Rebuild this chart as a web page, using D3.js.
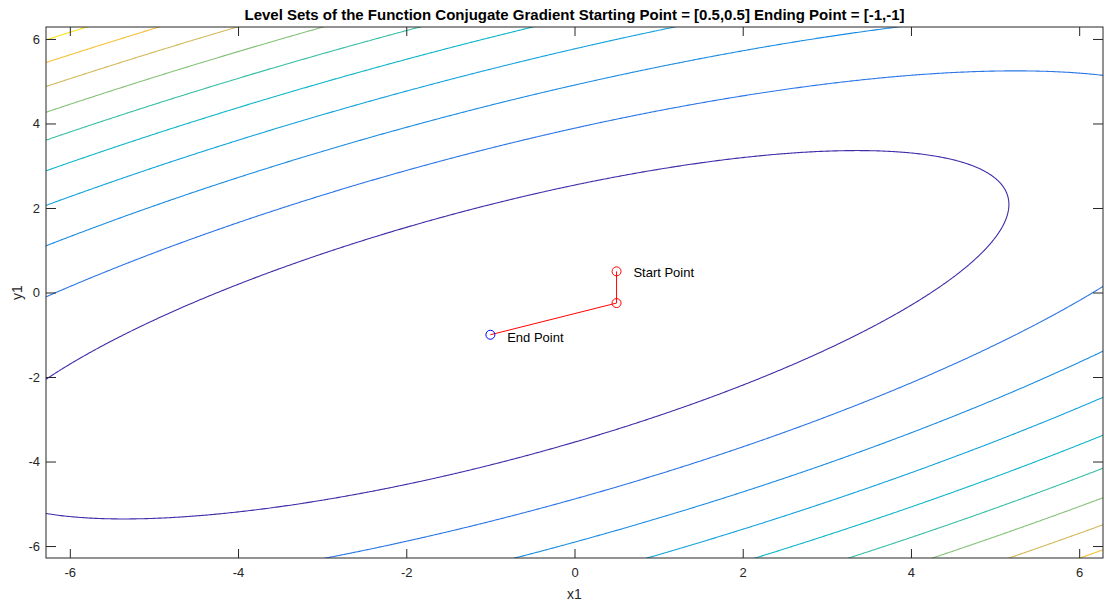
<!DOCTYPE html>
<html>
<head>
<meta charset="utf-8">
<script src="https://cdn.jsdelivr.net/npm/d3@7"></script>
<style>
body { margin: 0; background: #fff; }
text { font-family: "Liberation Sans", Arial, sans-serif; fill: #262626; }
</style>
</head>
<body>
<div id="chart"></div>
<script>
// quadratic f(x1,y1) = q0*x^2 + q1*x*y + q2*y^2 + q3*x + q4*y + q5
var quad = [1, -2, 2, 0, 2, 2];
var levels = [20, 40, 60, 80, 100, 120, 140, 160, 180, 200];
// conjugate gradient iterates
var pathX = [0.5, 0.5, -1];
var pathY = [0.5, -0.25, -1];
var xTicks = [-6, -4, -2, 0, 2, 4, 6];
var yTicks = [-6, -4, -2, 0, 2, 4, 6];
var labels = ['Start Point', 'End Point'];
var titleText = 'Level Sets of the Function Conjugate Gradient Starting Point = [0.5,0.5] Ending Point = [-1,-1]';

var chart_width = 1105;
var chart_height = 603;
var plot_left = 46, plot_right = 1103, plot_top = 27, plot_bottom = 558;

// parula-like colours for the levels
var level_colours = ['#3e2ea8', '#2b76e6', '#1c8ce2', '#14a2dc', '#0fb5c8',
    '#38bea6', '#86c27a', '#d2b95a', '#f6c13a', '#f8e41a'];

function f(x, y) {
    return quad[0] * x * x + quad[1] * x * y + quad[2] * y * y + quad[3] * x + quad[4] * y + quad[5];
}

var svg = d3.select('#chart')
    .append('svg')
    .attr('width', chart_width)
    .attr('height', chart_height);

var x_scale = d3.scaleLinear().domain([-2 * Math.PI, 2 * Math.PI]).range([plot_left, plot_right]);
var y_scale = d3.scaleLinear().domain([-2 * Math.PI, 2 * Math.PI]).range([plot_bottom, plot_top]);
var colour = d3.scaleLinear().domain(levels).range(level_colours);

svg.append('clipPath')
    .attr('id', 'plot-clip')
    .append('rect')
    .attr('x', plot_left)
    .attr('y', plot_top)
    .attr('width', plot_right - plot_left)
    .attr('height', plot_bottom - plot_top);

// sample the function a bit beyond the axes, the clip hides the grid edge
var lo = -6.6, step = 0.02;
var n = Math.round((6.6 - lo) / step) + 1;
var values = new Float64Array(n * n);
for (var j = 0; j < n; j++) {
    for (var i = 0; i < n; i++) {
        values[j * n + i] = f(lo + i * step, lo + j * step);
    }
}

var contours = d3.contours().size([n, n]).thresholds(levels)(values);

var grid_to_px = d3.geoTransform({
    point: function (gx, gy) {
        this.stream.point(x_scale(lo + (gx - 0.5) * step), y_scale(lo + (gy - 0.5) * step));
    }
});
var path = d3.geoPath(grid_to_px);

svg.append('g')
    .attr('clip-path', 'url(#plot-clip)')
    .selectAll('path')
    .data(contours)
    .enter()
    .append('path')
    .attr('d', path)
    .attr('fill', 'none')
    .attr('stroke', function (d) { return colour(d.value); })
    .attr('stroke-width', 1.1);

// axes, ticks pointing inward on all four sides
var fmt = function (d) { return String(d); };
svg.append('g')
    .attr('transform', 'translate(0,' + plot_bottom + ')')
    .call(d3.axisBottom(x_scale).tickValues(xTicks).tickFormat(fmt).tickSizeInner(-9).tickSizeOuter(0).tickPadding(10));
svg.append('g')
    .attr('transform', 'translate(0,' + plot_top + ')')
    .call(d3.axisTop(x_scale).tickValues(xTicks).tickFormat('').tickSizeInner(-9).tickSizeOuter(0));
svg.append('g')
    .attr('transform', 'translate(' + plot_left + ',0)')
    .call(d3.axisLeft(y_scale).tickValues(yTicks).tickFormat(fmt).tickSizeInner(-10).tickSizeOuter(0).tickPadding(6));
svg.append('g')
    .attr('transform', 'translate(' + plot_right + ',0)')
    .call(d3.axisRight(y_scale).tickValues(yTicks).tickFormat('').tickSizeInner(-10).tickSizeOuter(0));

svg.selectAll('.domain').remove();
svg.selectAll('.tick line').attr('stroke', '#262626');
svg.selectAll('.tick text')
    .style('font-size', '13px')
    .attr('fill', '#404040');

svg.append('rect')
    .attr('x', plot_left)
    .attr('y', plot_top)
    .attr('width', plot_right - plot_left)
    .attr('height', plot_bottom - plot_top)
    .attr('fill', 'none')
    .attr('stroke', '#262626')
    .attr('stroke-width', 1);

// descent path
var line = d3.line()
    .x(function (d) { return x_scale(d[0]); })
    .y(function (d) { return y_scale(d[1]); });
var pts = d3.zip(pathX, pathY);

svg.append('path')
    .attr('d', line(pts))
    .attr('fill', 'none')
    .attr('stroke', '#ff0000')
    .attr('stroke-width', 1);

svg.selectAll('circle.pt')
    .data(pts)
    .enter()
    .append('circle')
    .attr('class', 'pt')
    .attr('cx', function (d) { return x_scale(d[0]); })
    .attr('cy', function (d) { return y_scale(d[1]); })
    .attr('r', 4.5)
    .attr('fill', 'none')
    .attr('stroke', function (d, i) { return i === pts.length - 1 ? '#0000ff' : '#ff0000'; })
    .attr('stroke-width', 1);

var label_pts = [pts[0], pts[pts.length - 1]];
svg.selectAll('text.lbl')
    .data(label_pts)
    .enter()
    .append('text')
    .attr('class', 'lbl')
    .attr('x', function (d) { return x_scale(d[0] + 0.2); })
    .attr('y', function (d) { return y_scale(d[1]); })
    .attr('dy', function (d, i) { return i === 0 ? '0.4em' : '0.55em'; })
    .style('font-size', '13px')
    .style('fill', '#000')
    .text(function (d, i) { return labels[i]; });

svg.append('text')
    .attr('x', (plot_left + plot_right) / 2)
    .attr('y', 20)
    .style('text-anchor', 'middle')
    .style('font-weight', 'bold')
    .style('font-size', '15px')
    .style('fill', '#000')
    .text(titleText);

svg.append('text')
    .attr('x', (plot_left + plot_right) / 2)
    .attr('y', 599)
    .style('text-anchor', 'middle')
    .style('font-size', '14px')
    .text('x1');

svg.append('text')
    .attr('transform', 'translate(22,' + (plot_top + plot_bottom) / 2 + ') rotate(-90)')
    .style('text-anchor', 'middle')
    .style('font-size', '14px')
    .text('y1');
</script>
</body>
</html>
